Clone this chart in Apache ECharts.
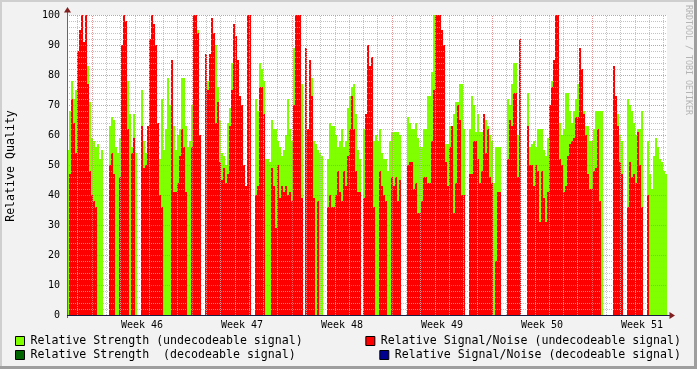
<!DOCTYPE html>
<html><head><meta charset="utf-8">
<script src="https://cdn.jsdelivr.net/npm/echarts@6/dist/echarts.min.js"></script>
<style>html,body{margin:0;padding:0;background:#f2f2f2}#c{width:697px;height:369px}</style>
</head><body><div id="c"></div>
<script>
// Relative Strength (undecodeable signal), one value per 2-px time slot (null = no data)
const strengthUndecodeable = [
55,68,78,72,75,74,80,80,80,80,83,71,59,58,56,57,52,55,null,null,
null,63,66,65,56,54,59,72,72,72,78,67,56,67,54,null,null,75,58,54,
58,65,70,83,82,58,52,72,55,62,79,70,64,63,55,60,62,79,79,63,
56,58,70,95,95,95,58,null,null,75,78,78,80,86,90,76,65,54,53,50,
64,69,84,90,80,75,72,62,45,43,55,60,null,null,72,68,84,82,78,52,
52,51,65,62,62,58,56,53,55,60,72,62,58,89,100,98,97,77,null,74,
62,79,79,58,57,55,54,53,null,null,52,64,63,63,60,56,58,62,56,58,
69,73,76,77,67,55,52,null,62,67,82,82,70,58,60,58,62,54,52,52,
48,58,61,61,61,61,60,null,null,null,66,64,62,62,64,59,56,56,62,62,
73,73,81,100,100,100,98,95,72,57,57,63,63,67,71,71,77,77,62,null,
null,62,73,70,61,67,61,61,67,65,63,60,58,44,56,56,56,null,null,null,
72,70,77,84,84,60,60,null,null,null,74,56,57,58,56,62,62,62,55,53,
59,65,78,80,80,80,64,60,62,74,74,68,64,68,72,77,78,75,68,63,
63,58,58,62,68,68,68,68,null,null,null,null,null,67,67,67,60,58,null,null,
72,70,68,64,60,62,62,68,null,null,58,47,42,53,59,56,52,51,48,47
];
// Relative Signal/Noise (undecodeable signal)
const snrUndecodeable = [
0,47,72,64,54,88,95,100,91,100,77,48,40,38,36,0,0,0,null,null,
null,50,54,47,0,0,46,90,100,98,62,0,54,59,0,null,null,63,49,50,
63,92,100,97,90,64,40,36,0,0,0,0,85,41,41,44,53,62,56,41,
0,0,56,100,100,94,60,null,null,87,75,87,99,94,64,71,51,45,49,44,
47,63,75,97,93,85,73,70,50,43,100,100,null,null,40,43,76,76,67,0,
0,0,49,43,29,50,39,43,41,43,40,41,38,70,100,100,100,39,null,89,
62,85,73,39,0,38,0,0,null,null,36,40,36,36,40,48,41,38,48,43,
53,62,73,62,48,41,41,null,39,67,90,83,86,36,0,0,48,43,40,38,
0,0,46,43,46,38,45,null,null,null,50,51,51,42,44,34,34,38,46,46,
44,44,58,75,100,100,100,95,90,51,43,56,63,34,44,70,65,40,40,null,
null,47,47,58,58,52,44,48,67,54,62,46,44,0,18,41,41,null,null,null,
52,65,63,74,74,46,92,null,null,null,63,50,50,43,50,48,31,48,39,31,
41,70,76,85,100,100,52,50,41,43,53,57,58,59,66,66,89,82,67,60,
47,42,42,48,49,62,38,0,null,null,null,null,null,83,73,63,51,47,null,null,
36,51,46,47,44,61,50,36,null,null,40,0,0,0,0,0,0,0,0,0
];
// Decodeable signal series (no samples in this period)
const strengthDecodeable = [];
const snrDecodeable = [];

const slots = strengthUndecodeable.map((_, i) => i);
const weekLabels = ['Week 46', 'Week 47', 'Week 48', 'Week 49', 'Week 50', 'Week 51'];
const weekLabelSlots = [37, 87, 137, 187, 237, 287];
// vertical grid, in hours relative to Monday 00:00 of week 46
const weekLineHours = [0, 168, 336, 504, 672, 840];
const dayLineHours = [];
for (let h = -24; h <= 960; h += 24) if (weekLineHours.indexOf(h) < 0) dayLineHours.push(h);

const FONT = 'DejaVu Sans Mono';
const minorGrid = 'rgba(185,185,185,0.85)';
const majorGrid = 'rgba(225,120,120,0.8)';
const names = ['Relative Strength (undecodeable signal)', 'Relative Signal/Noise (undecodeable signal)',
  'Relative Strength  (decodeable signal)', 'Relative Signal/Noise (decodeable signal)'];

const legendCommon = {
  icon: 'rect', itemWidth: 9, itemHeight: 9, padding: 0, selectedMode: false,
  itemStyle: { borderColor: '#000', borderWidth: 1 },
  textStyle: { fontFamily: FONT, fontSize: 11.6, color: '#000', lineHeight: 14, padding: [0, 0, 0, 1] }
};

const chart = echarts.init(document.getElementById('c'), null, { renderer: 'canvas' });
chart.setOption({
  animation: false,
  backgroundColor: '#f2f2f2',
  grid: { left: 67, top: 15, width: 600, height: 300, show: true, backgroundColor: '#ffffff', borderWidth: 0 },
  xAxis: [
    {
      type: 'category', data: slots, boundaryGap: true,
      axisLine: { show: false }, axisTick: { show: false }, splitLine: { show: false },
      axisLabel: {
        interval: (i) => weekLabelSlots.indexOf(i) >= 0,
        formatter: (v, i) => { const k = weekLabelSlots.indexOf(i); return k >= 0 ? weekLabels[k] : ''; },
        fontFamily: FONT, fontSize: 10, color: '#000', margin: 5
      }
    },
    { type: 'value', min: -42, max: 966, show: false }
  ],
  yAxis: {
    type: 'value', min: 0, max: 100, interval: 10, z: 10,
    axisLine: { show: false }, axisTick: { show: false },
    axisLabel: { fontFamily: FONT, fontSize: 10, color: '#000', margin: 7 },
    splitLine: { show: true, lineStyle: { color: majorGrid, type: [1, 1], width: 1 } },
    minorTick: { show: false, splitNumber: 5 },
    minorSplitLine: { show: true, lineStyle: { color: minorGrid, type: [1, 1], width: 1 } }
  },
  legend: [
    Object.assign({ data: [names[0]], left: 15, top: 334 }, legendCommon),
    Object.assign({ data: [names[2]], left: 15, top: 348 }, legendCommon),
    Object.assign({ data: [names[1]], right: 16, top: 334 }, legendCommon),
    Object.assign({ data: [names[3]], right: 16, top: 348 }, legendCommon)
  ],
  series: [
    { name: names[0], type: 'bar', data: strengthUndecodeable, barGap: '-100%', barCategoryGap: '0%', itemStyle: { color: '#80ff00' }, z: 2, silent: true },
    { name: names[1], type: 'bar', data: snrUndecodeable, barGap: '-100%', barCategoryGap: '0%', itemStyle: { color: '#ff0000' }, z: 3, silent: true },
    { name: names[2], type: 'bar', data: strengthDecodeable, barGap: '-100%', barCategoryGap: '0%', itemStyle: { color: '#006400' }, z: 4, silent: true },
    { name: names[3], type: 'bar', data: snrDecodeable, barGap: '-100%', barCategoryGap: '0%', itemStyle: { color: '#000090' }, z: 5, silent: true },
    {
      type: 'line', xAxisIndex: 1, yAxisIndex: 0, data: [], z: 10, silent: true,
      markLine: {
        silent: true, symbol: ['none', 'none'], label: { show: false }, animation: false,
        data: dayLineHours.map(h => ({ xAxis: h, lineStyle: { color: minorGrid, type: [1, 1], width: 1 } }))
          .concat(weekLineHours.map(h => ({ xAxis: h, lineStyle: { color: majorGrid, type: [1, 1], width: 1 } })))
      }
    }
  ],
  graphic: [
    { type: 'rect', shape: { x: 0, y: 0, width: 697, height: 2 }, style: { fill: '#cfcfcf' }, z: 100 },
    { type: 'rect', shape: { x: 0, y: 0, width: 2, height: 369 }, style: { fill: '#cfcfcf' }, z: 100 },
    { type: 'rect', shape: { x: 0, y: 366, width: 697, height: 3 }, style: { fill: '#9e9e9e' }, z: 100 },
    { type: 'rect', shape: { x: 694, y: 0, width: 3, height: 369 }, style: { fill: '#9e9e9e' }, z: 100 },
    { type: 'line', shape: { x1: 67.5, y1: 318, x2: 67.5, y2: 11 }, style: { stroke: '#666666', lineWidth: 1 }, z: 100 },
    { type: 'line', shape: { x1: 67, y1: 315.5, x2: 671, y2: 315.5 }, style: { stroke: '#1a1a40', lineWidth: 1 }, z: 100 },
    { type: 'polygon', shape: { points: [[67.5, 7], [64, 12.5], [71, 12.5]] }, style: { fill: '#801f1f' }, z: 101 },
    { type: 'polygon', shape: { points: [[675, 315.5], [669.5, 312], [669.5, 319]] }, style: { fill: '#801f1f' }, z: 101 },
    { type: 'text', x: 10.5, y: 166, rotation: Math.PI / 2, z: 100,
      style: { text: 'Relative Quality', font: '11.6px "DejaVu Sans Mono"', fill: '#000', textAlign: 'center', textVerticalAlign: 'middle' } },
    { type: 'text', x: 688.5, y: 60, rotation: -Math.PI / 2, z: 100,
      style: { text: 'RRDTOOL / TOBI OETIKER', font: '8.3px "DejaVu Sans Mono"', fill: '#b4b4b4', textAlign: 'center', textVerticalAlign: 'middle' } }
  ]
});
</script></body></html>
